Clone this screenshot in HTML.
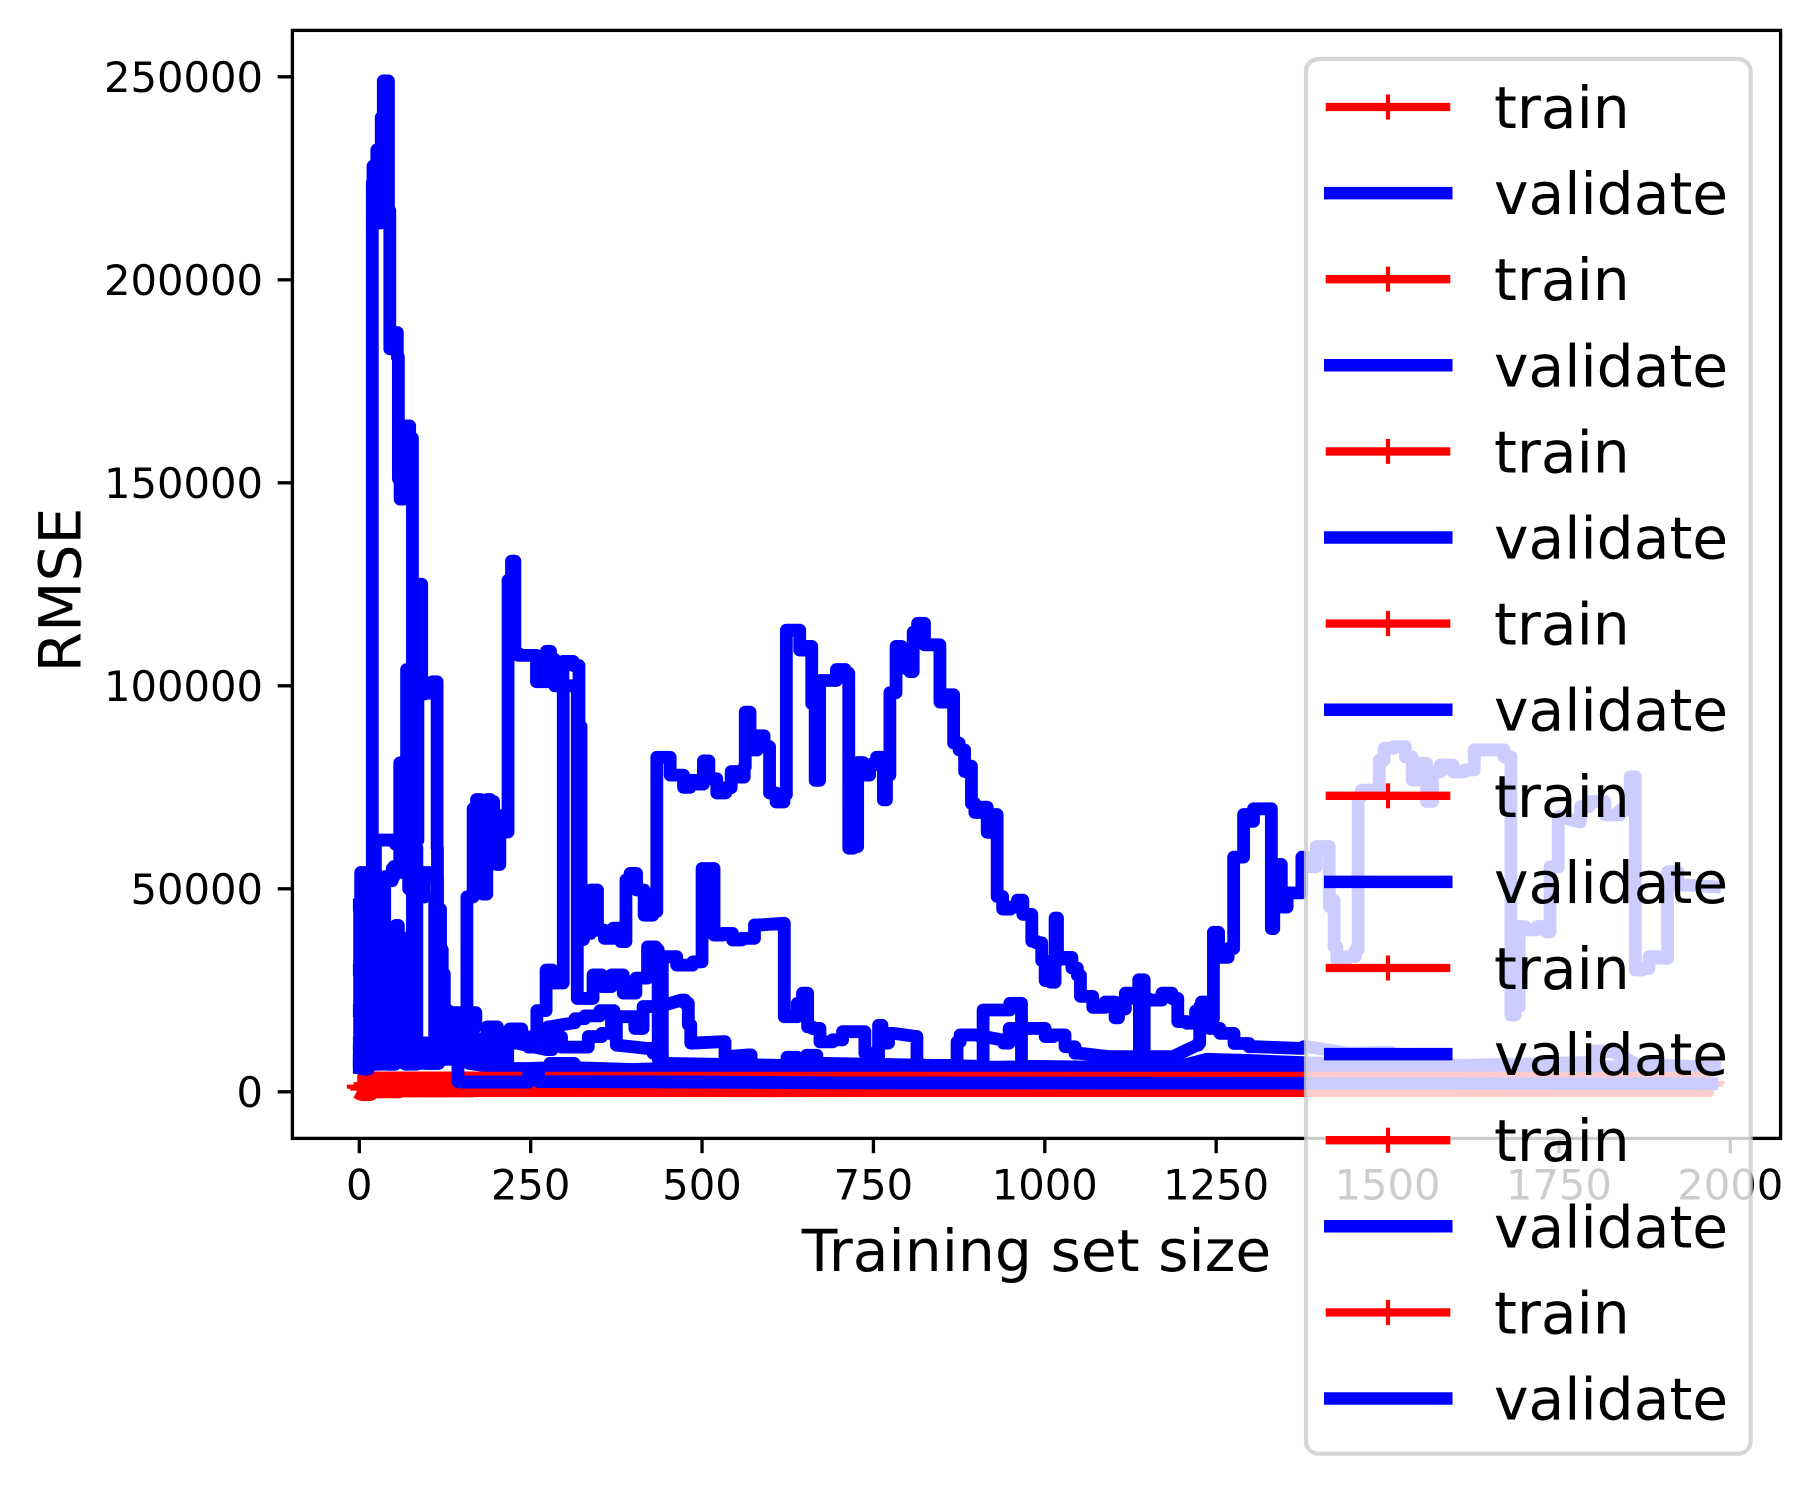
<!DOCTYPE html>
<html lang="en">
<head>
<meta charset="utf-8">
<title>RMSE learning curves</title>
<style>
html,body{margin:0;padding:0;background:#fff;}
svg{display:block;}
text{font-family:"DejaVu Sans",sans-serif;fill:#000;}
</style>
</head>
<body>
<svg id="chart" xmlns="http://www.w3.org/2000/svg" width="1812" height="1485" viewBox="0 0 1812 1485">
  <rect x="0" y="0" width="1812" height="1485" fill="#fff"/>
  <g id="series"></g>
  <g id="axes"></g>
  <text x="1036.5" y="1271" font-size="58.33" text-anchor="middle">Training set size</text>
  <text transform="translate(80.7,590) rotate(-90)" font-size="58.33" text-anchor="middle">RMSE</text>
  <g id="legend"></g>
</svg>
<script>
const xTicks = [0, 250, 500, 750, 1000, 1250, 1500, 1750, 2000];
const xTickLabels = ["0", "250", "500", "750", "1000", "1250", "1500", "1750", "2000"];
const yTicks = [0, 50000, 100000, 150000, 200000, 250000];
const yTickLabels = ["0", "50000", "100000", "150000", "200000", "250000"];
const legendLabels = ["train", "validate", "train", "validate", "train", "validate", "train", "validate", "train", "validate", "train", "validate", "train", "validate", "train", "validate"];

const train1 = [[0,1250],[5,800],[14,800],[15,1480],[56,1480],[57,1720],[163,1720],[164,1870],[1000,1870],[1966,1870]];
const train2 = [[10,1870],[300,1860],[900,1850],[1960,1850],[1973,2150]];
const train3 = [[12,1850],[400,1800],[1000,1820],[1968,1840]];
const train4 = [[14,1870],[500,1830],[1200,1800],[1964,1820]];
const train5 = [[16,1800],[600,1780],[1400,1800],[1970,1800]];
const train6 = [[18,1860],[450,1850],[1100,1860],[1962,1850]];
const train7 = [[20,1780],[700,1800],[1500,1810],[1958,1830]];
const train8 = [[10,1870],[250,1870],[800,1870],[1400,1860],[1966,1860]];

const validate1 = [[0,10000],[2,32000],[4,12000],[8,34000],[12,9000],[16,26000],[19,8000],[19,224000],[21,228000],[25,216000],[26,232000],[29,232000],[31,214000],[33,240000],[37,249000],[41,249000],[44,217000],[45,183000],[50,183000],[54,187000],[57,181000],[57,151000],[62,146000],[64,146000],[66,160000],[71,164000],[76,161000],[79,62000],[84,62000],[87,125000],[91,125000],[91,98000],[100,98200],[113,101000],[114,60000],[114,8000],[122,14000],[135,15000],[140,13000],[215,13000],[230,12000],[273,10400],[290,13500],[300,11000],[322,11000],[346,13600],[361,14400],[375,18500],[390,18500],[414,15600],[414,21000],[438,21000],[470,22600],[480,21800],[480,16500],[487,12000],[531,12350],[536,8650],[568,9100],[575,6500],[872,6500],[872,12300],[881,14000],[898,14000],[937,12800],[942,12000],[954,15600],[998,15600],[1003,13600],[1022,14000],[1037,11100],[1051,9500],[1095,8650],[1187,8650],[1222,11500],[1226,12000],[1226,21000],[1235,18000],[1246,15600],[1265,14400],[1287,11900],[1309,11100],[1372,10700],[1383,11100],[1442,9500],[1491,9700],[1520,8800],[1551,6900],[1605,6500],[1690,6800],[1789,7200],[1813,10000],[1830,9800],[1863,6800],[1977,6000]];

const validate2 = [[0,20000],[3,8000],[7,30000],[14,8000],[30,45000],[33,7000],[44,14000],[52,8000],[64,16000],[72,7000],[90,12000],[105,7000],[125,12000],[145,14000],[157,17000],[157,48000],[166,48000],[166,69700],[176,72000],[178,50000],[182,48700],[186,48700],[186,72000],[196,71500],[196,60000],[205,56000],[205,68000],[217,64000],[217,126000],[227,130700],[227,108000],[237,107500],[253,107500],[264,101000],[273,101000],[273,108500],[285,106500],[285,100000],[297,100000],[297,106000],[305,106000],[319,105000],[322,90000],[325,37500],[329,39000],[346,49700],[349,39800],[366,37800],[375,40300],[388,37000],[390,52200],[400,53800],[409,49700],[422,43500],[434,44400],[434,82400],[450,82400],[457,78000],[470,78000],[476,75000],[489,76700],[499,75800],[505,81500],[515,77100],[528,73600],[541,74900],[544,78900],[560,77500],[563,80000],[563,93500],[577,84200],[584,87700],[597,85000],[600,73600],[616,71400],[623,73200],[623,113700],[636,113700],[649,108800],[658,109700],[662,95600],[668,76700],[675,101300],[688,101300],[704,104000],[714,103100],[714,60000],[727,60400],[727,81100],[743,78000],[746,80600],[763,82400],[766,71900],[772,78000],[776,98300],[782,98300],[784,109700],[798,104400],[808,103500],[808,113200],[821,115400],[828,110100],[847,110100],[847,96000],[867,97800],[867,85900],[883,84200],[883,78900],[893,80200],[893,71000],[903,68800],[916,70100],[916,63900],[929,68300],[932,48100],[945,45000],[955,45500],[965,47200],[971,43700],[981,43700],[981,37100],[994,36700],[997,32300],[1004,27400],[1013,27000],[1017,42800],[1020,32700],[1036,33100],[1043,30500],[1052,28700],[1052,23500],[1065,23500],[1075,20800],[1101,22100],[1104,18200],[1111,20400],[1124,24300],[1136,23000],[1138,27600],[1145,27600],[1145,6000],[1138,6000],[1138,23000],[1163,22600],[1179,24300],[1192,23000],[1196,17300],[1218,16900],[1222,19900],[1235,22100],[1246,18000],[1246,39300],[1261,33100],[1274,35300],[1277,57800],[1290,57800],[1290,68300],[1303,66600],[1306,69700],[1329,69700],[1332,40200],[1336,56000],[1345,56000],[1345,45500],[1362,49000],[1375,49000],[1375,57800],[1390,55450],[1402,60400],[1415,60400],[1415,45600],[1422,47200],[1422,35700],[1430,32500],[1449,33300],[1457,34900],[1457,72700],[1467,74300],[1487,74300],[1489,81700],[1501,84600],[1516,85000],[1536,82500],[1536,76800],[1551,80900],[1563,71500],[1568,78800],[1586,80500],[1605,78800],[1620,79300],[1633,84200],[1660,84200],[1680,82500],[1680,18900],[1692,21000],[1692,40700],[1709,39900],[1727,40700],[1737,39400],[1737,55400],[1749,55400],[1749,67800],[1779,66500],[1784,70200],[1803,71500],[1831,68200],[1848,69400],[1860,77600],[1863,30000],[1880,30400],[1883,33300],[1907,32900],[1910,54200],[1937,50900],[1977,50500]];

const validate3 = [[0,46000],[1,8000],[3,54000],[22,54000],[25,62000],[45,62000],[60,61000],[66,54000],[75,55000],[80,30000],[84,8000],[110,8000],[110,46500],[113,48000],[113,9000],[118,19000],[125,12000],[150,11000],[200,12000],[230,13000],[254,13500],[264,20000],[281,30000],[282,26800],[297,26800],[298,100000],[317,100000],[319,23000],[336,23000],[346,28800],[361,25900],[375,28800],[395,24300],[412,28000],[429,35700],[436,35000],[436,8000],[442,8000],[442,33000],[453,33300],[473,31200],[500,32000],[500,55000],[516,55000],[519,38600],[541,39000],[548,37400],[568,37800],[585,41100],[619,41500],[621,18500],[638,18500],[640,21800],[653,24300],[655,16000],[667,15600],[677,12300],[704,12800],[706,14800],[730,14800],[745,9500],[755,7000],[760,16400],[765,12000],[779,14400],[813,13600],[814,6500],[900,6000],[1000,6200],[1100,5400],[1236,6000],[1400,5800],[1973,5800]];

const validate4 = [[0,30000],[4,7000],[10,52000],[12,6600],[20,50000],[27,52000],[28,7000],[36,50000],[36,6800],[37,53000],[64,55500],[80,50000],[90,48000],[100,54000],[112,53000],[116,45000],[121,29000],[127,20000],[133,17000],[150,10000],[215,10500],[218,5600],[300,6000],[400,5500],[500,6000],[900,6000],[1100,5600],[1190,6000],[1236,8000],[1300,7700],[1372,7200],[1500,6500],[1973,6000]];

const validate5 = [[0,8000],[2,15000],[40,14000],[50,7000],[57,41000],[57,8000],[67,8000],[67,36000],[76,38000],[80,38000],[80,8000],[90,7000],[120,12000],[128,19500],[170,19500],[170,16000],[130,16000],[130,13000],[175,13000],[198,16000],[205,12500],[234,15500],[240,13500],[254,11000],[273,10800],[278,16000],[312,17000],[317,18000],[341,18700],[361,20000],[368,20000],[375,18000],[375,11500],[419,10700],[438,9500],[446,7000],[620,6500],[628,8500],[650,8200],[655,9000],[680,7000],[905,6300],[910,6300],[910,20150],[949,20150],[949,21800],[966,21800],[966,6300],[1120,6000],[1300,6300],[1973,5900]];

const validate6 = [[0,7000],[2,12000],[30,8000],[37,7000],[37,52000],[59,55000],[59,81000],[62,60000],[69,60000],[69,104000],[73,100000],[74,66000],[78,66000],[78,8000],[88,9000],[100,7000],[120,11000],[160,7000],[220,5600],[273,5600],[283,7000],[312,7000],[315,5000],[340,4700],[468,5600],[600,6200],[1240,5800],[1973,5800]];

const validate7 = [[0,6000],[2,12000],[6,6000],[6,46000],[15,46000],[15,6800],[27,6800],[27,50000],[37,50000],[37,7000],[44,6800],[60,12000],[70,7000],[84,7000],[84,60000],[84,8000],[114,7000],[118,35000],[124,8000],[140,8000],[215,7500],[218,5800],[275,5500],[340,5000],[1000,5600],[1973,5700]];

const validate8 = [[0,12000],[8,5600],[18,16000],[28,6800],[38,14000],[44,6800],[60,17000],[75,6800],[92,12000],[110,7000],[120,9000],[135,14000],[143,8000],[145,2500],[150,2400],[244,2400],[250,4500],[258,4500],[265,2500],[500,2400],[700,2200],[1973,2000]];

const trainSeries = [train1, train2, train3, train4, train5, train6, train7, train8];
const validateSeries = [validate1, validate2, validate3, validate4, validate5, validate6, validate7, validate8];

const SVG_NS = "http://www.w3.org/2000/svg";
function sx(v) { return 359.3 + 0.6855 * v; }
function sy(v) { return 1091.8 - 0.00406 * v; }
function pathFrom(points) {
  return points.map(function (p, i) {
    return (i ? "L" : "M") + sx(p[0]).toFixed(2) + " " + sy(p[1]).toFixed(2);
  }).join(" ");
}
function stepPathFrom(points) {
  let d = "M" + sx(points[0][0]).toFixed(2) + " " + sy(points[0][1]).toFixed(2);
  for (let i = 1; i < points.length; i++) {
    const a = points[i - 1];
    const b = points[i];
    if (Math.abs(b[0] - a[0]) < 30) {
      const mid = sx((a[0] + b[0]) / 2).toFixed(2);
      d += " H" + mid + " V" + sy(b[1]).toFixed(2) + " H" + sx(b[0]).toFixed(2);
    } else {
      d += " L" + sx(b[0]).toFixed(2) + " " + sy(b[1]).toFixed(2);
    }
  }
  return d;
}
function make(tag, attrs, parent) {
  const el = document.createElementNS(SVG_NS, tag);
  Object.keys(attrs).forEach(function (k) { el.setAttribute(k, attrs[k]); });
  parent.appendChild(el);
  return el;
}
function plusMarker(cx, cy, parent) {
  const d = "M" + (cx - 12.5) + " " + cy + "H" + (cx + 12.5) + "M" + cx + " " + (cy - 12.5) + "V" + (cy + 12.5);
  return make("path", { d: d, fill: "none", stroke: "#ff0000", "stroke-width": 4.17 }, parent);
}

const seriesLayer = document.getElementById("series");
trainSeries.forEach(function (points, i) {
  const group = make("g", {}, seriesLayer);
  
  
  const band = make("path", { d: pathFrom(points), fill: "none", stroke: "#ff0000", "stroke-width": 25, "stroke-linejoin": "round", "stroke-linecap": "butt" }, group);
  
  
  points.forEach(function (p) {
    const marker = plusMarker(sx(p[0]), sy(p[1]), group);
    
    
  });
  const line = make("path", { d: stepPathFrom(validateSeries[i]), fill: "none", stroke: "#0000ff", "stroke-width": 12.8, "stroke-linejoin": "round", "stroke-linecap": "square" }, group);
  
  
});

const axesLayer = document.getElementById("axes");
const frame = make("rect", { x: 292.4, y: 30.4, width: 1488.2, height: 1108, fill: "none", stroke: "#000", "stroke-width": 3.33 }, axesLayer);



xTicks.forEach(function (v, i) {
  const tick = make("line", { x1: sx(v), x2: sx(v), y1: 1138.5, y2: 1153.2, stroke: "#000", "stroke-width": 3.33 }, axesLayer);
  
  
  const label = make("text", { x: sx(v), y: 1199.5, "font-size": 41.67, "text-anchor": "middle" }, axesLayer);
  label.textContent = xTickLabels[i];
  
  
});
yTicks.forEach(function (v, i) {
  const tick = make("line", { x1: 277.7, x2: 292.4, y1: sy(v), y2: sy(v), stroke: "#000", "stroke-width": 3.33 }, axesLayer);
  
  
  const label = make("text", { x: 263, y: sy(v) + 15.2, "font-size": 41.67, "text-anchor": "end" }, axesLayer);
  label.textContent = yTickLabels[i];
  
  
});

const legendLayer = document.getElementById("legend");
const legendBox = make("rect", { x: 1306, y: 59, width: 444.7, height: 1394.7, rx: 12.5, ry: 12.5, fill: "#fff", "fill-opacity": 0.8, stroke: "#ccc", "stroke-opacity": 0.8, "stroke-width": 4.17 }, legendLayer);


legendLabels.forEach(function (text, i) {
  const rowY = 107 + 86.1 * i;
  const entry = make("g", {}, legendLayer);
  
  
  if (text === "train") {
    make("line", { x1: 1325.7, x2: 1450.3, y1: rowY, y2: rowY, stroke: "#ff0000", "stroke-width": 8.33 }, entry);
    make("line", { x1: 1388, x2: 1388, y1: rowY - 12.5, y2: rowY + 12.5, stroke: "#ff0000", "stroke-width": 4.17 }, entry);
  } else {
    make("line", { x1: 1324, x2: 1452.5, y1: rowY, y2: rowY, stroke: "#0000ff", "stroke-width": 12.5 }, entry);
  }
  const label = make("text", { x: 1494, y: rowY + 21, "font-size": 58.33 }, entry);
  label.textContent = text;
  
  
});
</script>
</body>
</html>
